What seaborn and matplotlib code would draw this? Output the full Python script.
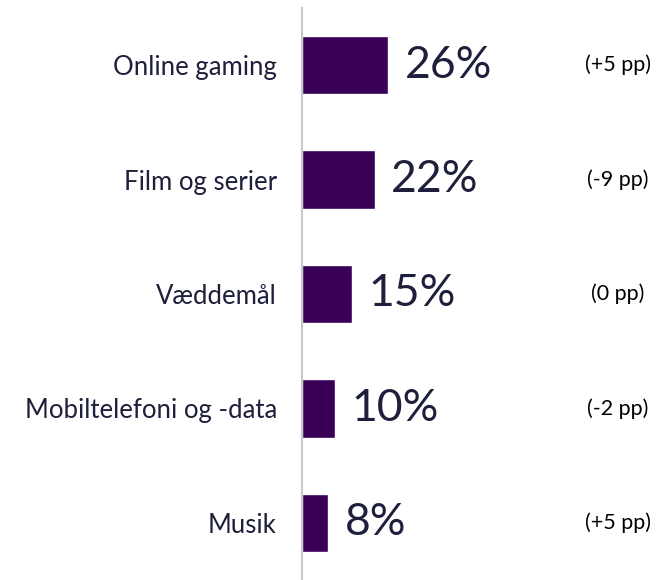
import matplotlib
matplotlib.use("Agg")
import matplotlib.pyplot as plt
import seaborn as sns
import pandas as pd

sns.set_theme(style="white")
plt.rcParams['font.family'] = ['Lato', 'DejaVu Sans']

categories = ["Online gaming", "Film og serier", "Væddemål", "Mobiltelefoni og -data", "Musik"]
values = [26, 22, 15, 10, 8]
changes = ["(+5 pp)", "(-9 pp)", "(0 pp)", "(-2 pp)", "(+5 pp)"]

bar_color = "#3a0058"
text_color = "#1e1f3b"

df = pd.DataFrame({"kategori": categories, "andel": values})

fig = plt.figure(figsize=(6.59, 5.80), dpi=100)
ax = fig.add_axes([302 / 659, 0, 357 / 659, 572 / 580])

sns.barplot(data=df, y="kategori", x="andel", color=bar_color, width=0.51,
            saturation=1, ax=ax, orient="h")

ax.set_xlim(0, 108)
ax.set_ylim(4.5, -0.5)
ax.set_xlabel("")
ax.set_ylabel("")
ax.set_xticks([])

for side in ["top", "right", "bottom"]:
    ax.spines[side].set_visible(False)
ax.spines["left"].set_color("#c8c8c8")
ax.spines["left"].set_linewidth(1.5)

ax.tick_params(axis="y", length=0, pad=18, labelsize=18.5, labelcolor=text_color)

for i, (v, c) in enumerate(zip(values, changes)):
    ax.text(v + 5, i, f"{v}%", va="center", ha="left", fontsize=32,
            color=text_color)
    ax.text(95.5, i, c, va="center", ha="center", fontsize=15.5, color="black")

fig.savefig("out.png", dpi=100)
